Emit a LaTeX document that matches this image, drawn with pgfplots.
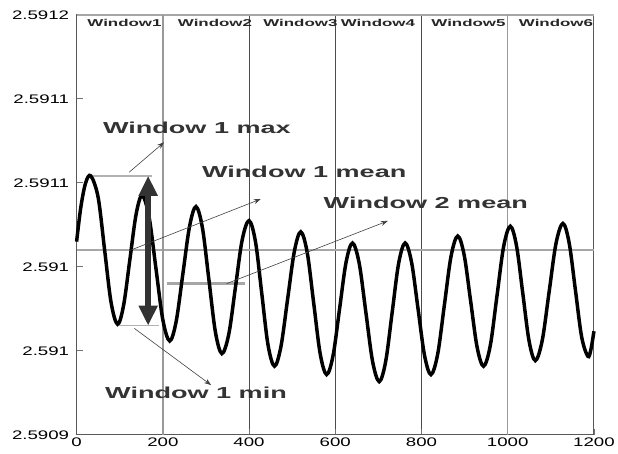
\documentclass[border=0pt]{standalone}
\usepackage{pgfplots}
\pgfplotsset{compat=1.18}
\usetikzlibrary{arrows.meta}
\usepackage{fontspec}
\setmainfont{Liberation Sans}
\newfontfamily\wideA[FakeStretch=1.5]{Liberation Sans}
\newfontfamily\wideB[FakeStretch=1.7]{Liberation Sans}
\begin{document}
\begin{tikzpicture}[x=1pt,y=1pt]
\begin{axis}[
  scale only axis, width=520pt, height=422pt,
  at={(0,0)}, anchor=south west,
  xmin=0, xmax=1200, ymin=0, ymax=300,
  xtick={0,200,400,600,800,1000,1200},
  xticklabels={0,200,400,600,800,1000,1200},
  ytick={0,60,120,180,240,300},
  yticklabels={2.5909,2.591,2.591,2.5911,2.5911,2.5912},
  ticklabel style={font=\wideA\fontsize{12.5}{14}\selectfont, text=black},
  yticklabel style={xshift=-4pt},
  tick align=inside, tick pos=left, major tick length=6pt,
  tick style={black!55, line width=0.8pt},
  xmajorgrids, grid style={black!70, line width=1pt},
  axis line style={black!65, line width=1pt},
  clip=false,
]
% top frame line (light grey)
\addplot[black!35, line width=1.5pt] coordinates {(0,300) (1200,300)};
% window mean lines and max/min marker lines
\addplot[black!35, line width=2.5pt] coordinates {(0,132) (1200,132)};
\addplot[black!35, line width=2.5pt] coordinates {(210,108) (390,108)};
\addplot[black!30, line width=1.8pt] coordinates {(37,185) (175,185)};
\addplot[black!30, line width=1.8pt] coordinates {(95,78) (190,78)};
\addplot[black!40, line width=2pt] coordinates {(200,0) (200,300)};
\addplot[black!40, line width=1.5pt] coordinates {(1000,0) (1000,300)};
% signal
\addplot[black, line width=3.5pt, smooth, tension=0.55] coordinates {
(0,138) (10,163) (21,180) (33,185)
(50,169.5) (65,132) (80,94.5) (95,79)
(109,92.5) (123.5,125) (138,157.5) (152,171)
(168,155.8) (184,119) (200,82.2) (216,67)
(231,81.1) (246.5,115) (262,148.9) (277,163)
(292,147.6) (307,110.5) (322,73.4) (337,58)
(353,71.9) (368.5,105.5) (384,139.1) (400,153)
(415,137.8) (429.5,101) (444,64.2) (459,49)
(474,63.1) (489.5,97) (505,130.9) (520,145)
(535,130.1) (550,94) (565,57.9) (580,43)
(595,56.8) (610,90) (625,123.2) (640,137)
(655.5,122.5) (671,87.5) (686.5,52.5) (702,38)
(717,52.5) (732,87.5) (747,122.5) (762,137)
(777,123.2) (792,90) (807,56.8) (822,43)
(837.5,57.5) (853,92.5) (868.5,127.5) (884,142)
(899,128.4) (914,95.5) (929,62.6) (944,49)
(959.5,63.6) (975,99) (990.5,134.4) (1006,149)
(1020.5,134.9) (1035,101) (1049.5,67.1) (1064,53)
(1080,67.3) (1096,102) (1112,136.7) (1128,151)
(1142.5,137.1) (1157,103.5) (1171.5,69.9) (1186,56)
(1193,61) (1200,74)
};
% double arrow window 1 range
\addplot[black!80, line width=6pt, {Triangle[length=20pt,width=18pt]}-{Triangle[length=20pt,width=18pt]}] coordinates {(166,185) (166,78)};
% thin pointer arrows
\addplot[black!75, line width=0.6pt, -{Stealth[length=7pt,width=5pt]}] coordinates {(122,187.6) (203,209)};
\addplot[black!75, line width=0.6pt, -{Stealth[length=7pt,width=5pt]}] coordinates {(122,131.5) (427,168.4)};
\addplot[black!75, line width=0.6pt, -{Stealth[length=7pt,width=5pt]}] coordinates {(348,108) (722,152.8)};
\addplot[black!75, line width=0.6pt, -{Stealth[length=7pt,width=5pt]}] coordinates {(134,76) (312,35.5)};
% annotation texts
\node[font=\wideB\bfseries\fontsize{16}{18}\selectfont, text=black!80] at (axis cs:279,219.6) {Window 1 max};
\node[font=\wideB\bfseries\fontsize{16}{18}\selectfont, text=black!80] at (axis cs:528,188) {Window 1 mean};
\node[font=\wideB\bfseries\fontsize{16}{18}\selectfont, text=black!80] at (axis cs:810,166) {Window 2 mean};
\node[font=\wideB\bfseries\fontsize{16}{18}\selectfont, text=black!80] at (axis cs:277,30) {Window 1 min};
% window labels
\node[font=\wideB\bfseries\fontsize{10}{12}\selectfont, text=black!85] at (axis cs:111,294) {Window1};
\node[font=\wideB\bfseries\fontsize{10}{12}\selectfont, text=black!85] at (axis cs:321,294) {Window2};
\node[font=\wideB\bfseries\fontsize{10}{12}\selectfont, text=black!85] at (axis cs:519,294) {Window3};
\node[font=\wideB\bfseries\fontsize{10}{12}\selectfont, text=black!85] at (axis cs:699,294) {Window4};
\node[font=\wideB\bfseries\fontsize{10}{12}\selectfont, text=black!85] at (axis cs:909,294) {Window5};
\node[font=\wideB\bfseries\fontsize{10}{12}\selectfont, text=black!85] at (axis cs:1112,294) {Window6};
\end{axis}
\path[use as bounding box] (-77pt,-19pt) rectangle (541pt,437pt);
\end{tikzpicture}
\end{document}
